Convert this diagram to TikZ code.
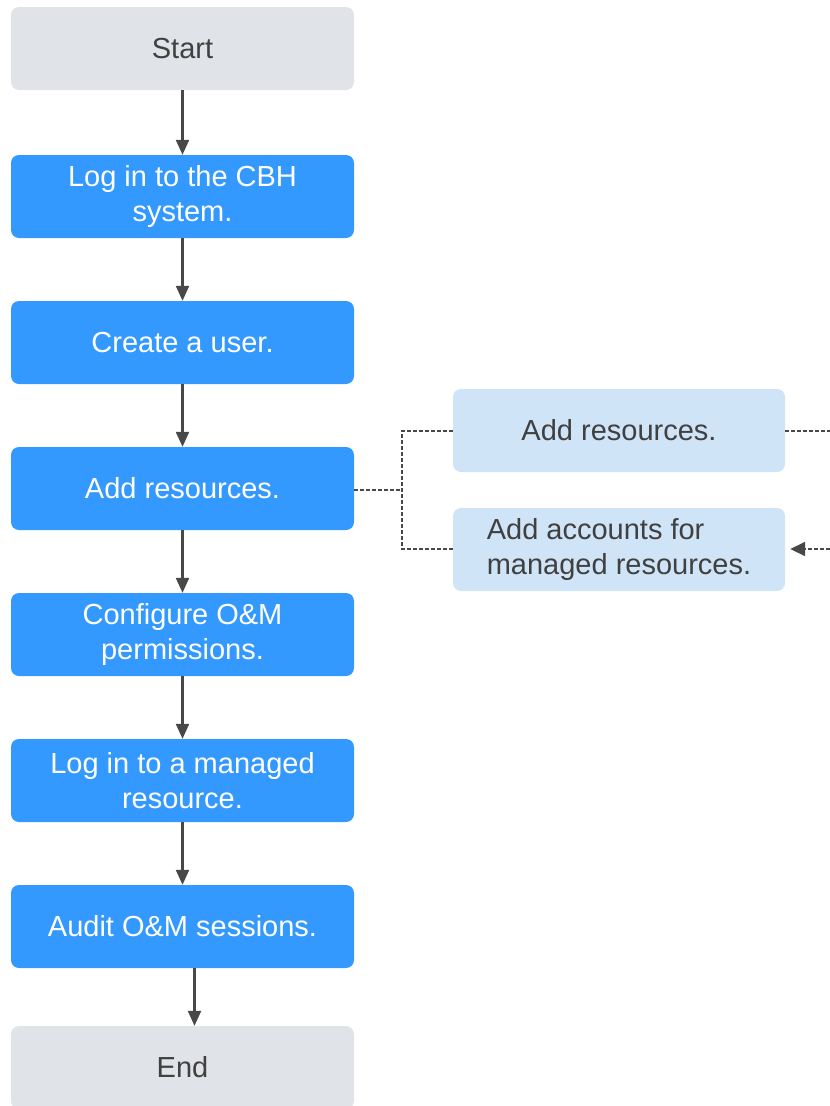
\documentclass[tikz,border=0pt]{standalone}
\usepackage{fontspec}
\setmainfont{Liberation Sans}
\usetikzlibrary{arrows.meta}
\definecolor{stepblue}{RGB}{51,153,255}
\definecolor{termgrey}{RGB}{224,227,231}
\definecolor{subblue}{RGB}{208,228,247}
\definecolor{txtgrey}{RGB}{64,64,64}
\definecolor{linegrey}{RGB}{72,72,72}
\tikzset{
  base/.style={rounded corners=8pt, minimum width=343pt, minimum height=83pt, align=center,
    font=\fontsize{29}{35}\selectfont, inner sep=0pt},
  termbox/.style={base, fill=termgrey, text=txtgrey},
  stepbox/.style={base, fill=stepblue, text=white},
  subbox/.style={base, fill=subblue, text=txtgrey, minimum width=332pt},
  flow/.style={draw=linegrey, line width=2.2pt, -{Triangle[length=15pt,width=13pt]}},
  dashline/.style={draw=linegrey, line width=1.8pt, dash pattern=on 4pt off 2pt},
}
\begin{document}
\begin{tikzpicture}[x=1pt,y=-1pt]
\useasboundingbox (0,0) rectangle (830,1106);
\node[termbox] (start) at (182.5,48.5) {Start};
\node[stepbox] (login) at (182.5,196.5) {Log in to the CBH\\system.};
\node[stepbox] (create) at (182.5,342.5) {Create a user.};
\node[stepbox] (add) at (182.5,488.5) {Add resources.};
\node[stepbox] (config) at (182.5,634.5) {Configure O\&M\\permissions.};
\node[stepbox] (logm) at (182.5,780.5) {Log in to a managed\\resource.};
\node[stepbox] (audit) at (182.5,926.5) {Audit O\&M sessions.};
\node[termbox] (end) at (182.5,1067.5) {End};
\node[subbox] (r1) at (619,430.5) {Add resources.};
\node[subbox] (r2) at (619,549.5) {\begin{tabular}{@{}l@{}}Add accounts for\\managed resources.\end{tabular}};
\draw[flow] (start) -- (login);
\draw[flow] (login) -- (create);
\draw[flow] (create) -- (add);
\draw[flow] (add) -- (config);
\draw[flow] (config) -- (logm);
\draw[flow] (logm) -- (audit);
\draw[flow] ([xshift=12pt]audit.south) -- ([xshift=12pt]end.north);
\coordinate (j) at (402,490);
\coordinate (e1) at (830,431);
\coordinate (e2) at (830,549);
\draw[dashline] (add.east |- j) -- (j);
\draw[dashline] (r1.west |- e1) -| (j) |- (r2.west |- e2);
\draw[dashline] (r1.east |- e1) -- (e1);
\draw[dashline, -{Triangle[length=15pt,width=14pt]}] (e2) -- ([xshift=5pt]r2.east |- e2);
\end{tikzpicture}
\end{document}
